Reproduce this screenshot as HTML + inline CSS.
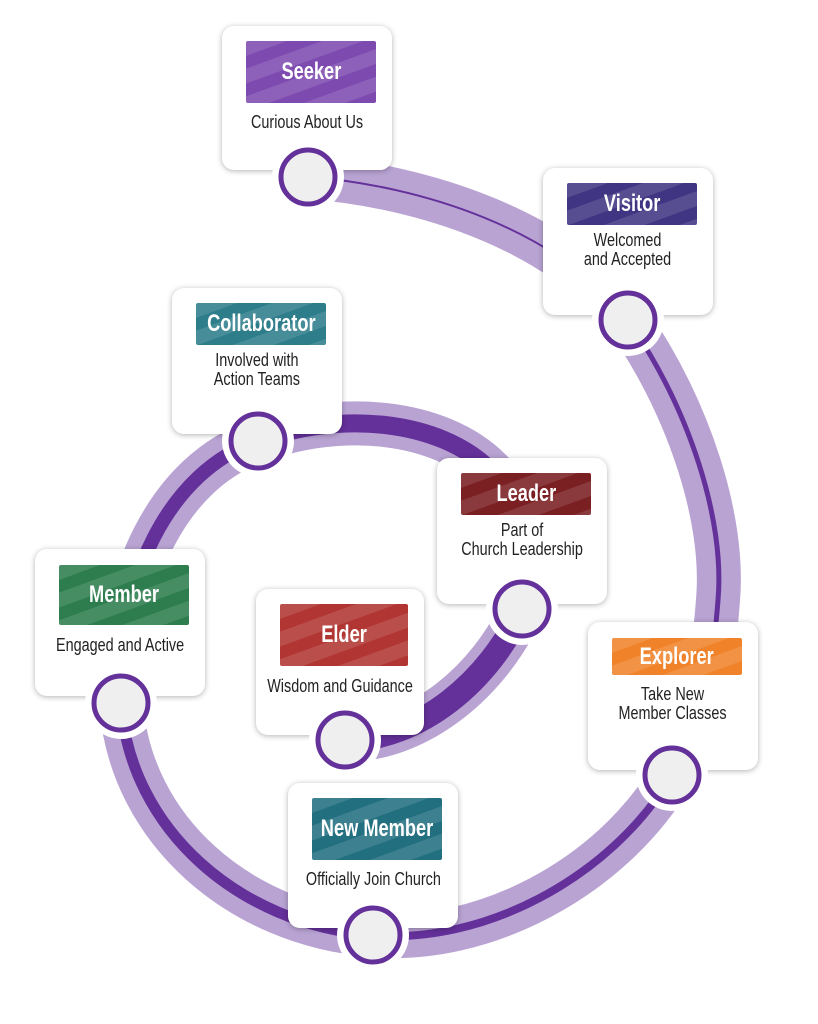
<!DOCTYPE html>
<html><head><meta charset="utf-8"><style>
body{margin:0;width:818px;height:1024px;background:#fff;position:relative;overflow:hidden;font-family:"Liberation Sans",sans-serif}
svg{position:absolute;left:0;top:0}
.card{position:absolute;background:#fff;border-radius:12px;box-shadow:0 1px 6px rgba(0,0,0,.3)}
.lab{position:absolute;left:24px;right:16px;border-radius:2px;color:#fff;font-weight:bold;font-size:24px;display:flex;align-items:center;justify-content:center;white-space:nowrap;
background-image:repeating-linear-gradient(160deg,rgba(255,255,255,.12) 0 14px,rgba(255,255,255,0) 14px 26px)}
.lab span{display:inline-block;transform:scaleX(.76)}
.sub{position:absolute;left:-20px;right:-20px;text-align:center;color:#222;font-size:18px;line-height:19px;white-space:nowrap}
.sub span{display:inline-block;transform:scaleX(.8)}
</style></head><body>
<svg width="818" height="1024">
<g fill="none" stroke="#b9a3d3" stroke-width="44" stroke-linecap="round">
<path d="M308,177 C420,185 560,230 628,320 C690,410 725,520 718,600 C712,680 700,730 672,775 C610,880 480,945 373,935 C240,925 130,830 121,703 C115,580 170,470 258,441 C340,410 440,420 490,470 C540,520 545,570 522,609 C490,680 420,740 345,740"/>
</g>
<g fill="none" stroke="#64309a">
<path stroke-width="2" d="M308,177 C420,185 560,230 628,320"/>
<path stroke-width="5" d="M628,320 C690,410 725,520 718,600 C712,680 700,730 672,775"/>
<path stroke-width="8" d="M672,775 C610,880 480,945 373,935"/>
<path stroke-width="11" d="M373,935 C240,925 130,830 121,703"/>
<path stroke-width="14" d="M121,703 C115,580 170,470 258,441"/>
<path stroke-width="18" d="M258,441 C340,410 440,420 490,470 C540,520 545,570 522,609"/>
<path stroke-width="24" d="M522,609 C490,680 420,740 345,740"/>
</g>
</svg>
<div class="card" style="left:222px;top:26px;width:170px;height:144px"><div class="lab" style="top:15px;height:62px;background-color:#7d4ab0"><span>Seeker</span></div><div class="sub" style="top:87px"><span>Curious About Us</span></div></div>
<div class="card" style="left:543px;top:168px;width:170px;height:147px"><div class="lab" style="top:15px;height:42px;background-color:#3f3582"><span>Visitor</span></div><div class="sub" style="top:63px"><span>Welcomed<br>and Accepted</span></div></div>
<div class="card" style="left:172px;top:288px;width:170px;height:146px"><div class="lab" style="top:15px;height:42px;background-color:#2d7d8b"><span>Collaborator</span></div><div class="sub" style="top:63px"><span>Involved with<br>Action Teams</span></div></div>
<div class="card" style="left:437px;top:458px;width:170px;height:146px"><div class="lab" style="top:15px;height:42px;background-color:#7a1f22"><span>Leader</span></div><div class="sub" style="top:63px"><span>Part of<br>Church Leadership</span></div></div>
<div class="card" style="left:35px;top:549px;width:170px;height:147px"><div class="lab" style="top:16px;height:60px;background-color:#2e7d4f"><span>Member</span></div><div class="sub" style="top:87px"><span>Engaged and Active</span></div></div>
<div class="card" style="left:256px;top:589px;width:168px;height:146px"><div class="lab" style="top:15px;height:62px;background-color:#b13532"><span>Elder</span></div><div class="sub" style="top:88px"><span>Wisdom and Guidance</span></div></div>
<div class="card" style="left:588px;top:622px;width:170px;height:148px"><div class="lab" style="top:16px;height:37px;background-color:#f0832a"><span>Explorer</span></div><div class="sub" style="top:63px"><span>Take New<br>Member Classes</span></div></div>
<div class="card" style="left:288px;top:783px;width:170px;height:145px"><div class="lab" style="top:15px;height:62px;background-color:#226f80"><span>New Member</span></div><div class="sub" style="top:87px"><span>Officially Join Church</span></div></div>
<svg width="818" height="1024">
<g fill="#fff"><circle cx="308" cy="177" r="36"/><circle cx="628" cy="320" r="36"/><circle cx="672" cy="775" r="36"/><circle cx="373" cy="935" r="36"/><circle cx="121" cy="703" r="36"/><circle cx="258" cy="441" r="36"/><circle cx="522" cy="609" r="36"/><circle cx="345" cy="740" r="36"/></g>
<g fill="#efefef" stroke="#64309a" stroke-width="5"><circle cx="308" cy="177" r="27"/><circle cx="628" cy="320" r="27"/><circle cx="672" cy="775" r="27"/><circle cx="373" cy="935" r="27"/><circle cx="121" cy="703" r="27"/><circle cx="258" cy="441" r="27"/><circle cx="522" cy="609" r="27"/><circle cx="345" cy="740" r="27"/></g>
</svg>
</body></html>
